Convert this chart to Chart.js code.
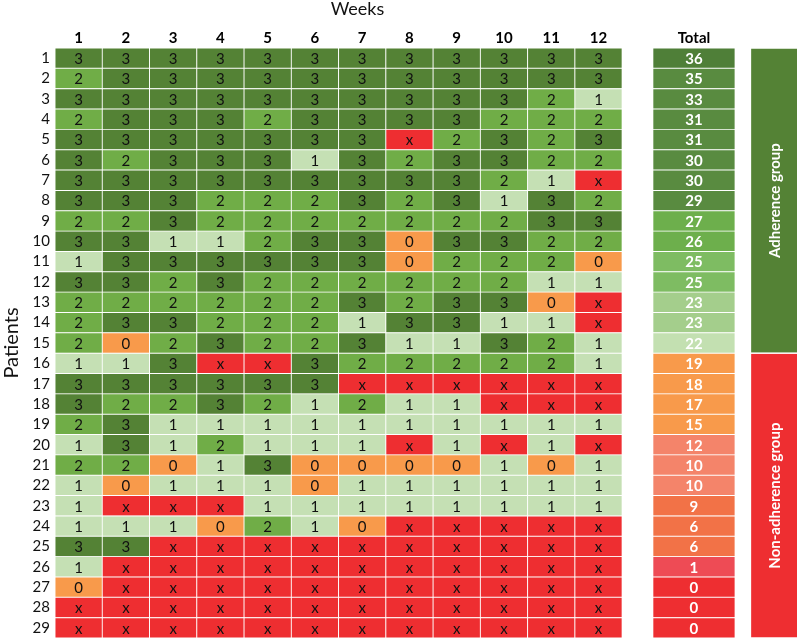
<!DOCTYPE html>
<html>
<head>
<meta charset="utf-8">
<script src="https://cdn.jsdelivr.net/npm/chart.js@4.4.1/dist/chart.umd.min.js"></script>
<style>
	html, body { margin: 0; padding: 0; background: #fff; }
	#wrap { width: 797px; height: 640px; }
</style>
</head>
<body>
<div id="wrap"><canvas id="adherenceChart"></canvas></div>
<script>
// ===== DATA =====
const X = 'x';
const weekLabels = ['1', '2', '3', '4', '5', '6', '7', '8', '9', '10', '11', '12'];
const patientLabels = ['1', '2', '3', '4', '5', '6', '7', '8', '9', '10', '11', '12', '13', '14', '15',
	'16', '17', '18', '19', '20', '21', '22', '23', '24', '25', '26', '27', '28', '29'];
const totalLabel = 'Total';

// weekly score per patient (rows) and week (columns); X = missed
const scores = [
	[3, 3, 3, 3, 3, 3, 3, 3, 3, 3, 3, 3],
	[2, 3, 3, 3, 3, 3, 3, 3, 3, 3, 3, 3],
	[3, 3, 3, 3, 3, 3, 3, 3, 3, 3, 2, 1],
	[2, 3, 3, 3, 2, 3, 3, 3, 3, 2, 2, 2],
	[3, 3, 3, 3, 3, 3, 3, X, 2, 3, 2, 3],
	[3, 2, 3, 3, 3, 1, 3, 2, 3, 3, 2, 2],
	[3, 3, 3, 3, 3, 3, 3, 3, 3, 2, 1, X],
	[3, 3, 3, 2, 2, 2, 3, 2, 3, 1, 3, 2],
	[2, 2, 3, 2, 2, 2, 2, 2, 2, 2, 3, 3],
	[3, 3, 1, 1, 2, 3, 3, 0, 3, 3, 2, 2],
	[1, 3, 3, 3, 3, 3, 3, 0, 2, 2, 2, 0],
	[3, 3, 2, 3, 2, 2, 2, 2, 2, 2, 1, 1],
	[2, 2, 2, 2, 2, 2, 3, 2, 3, 3, 0, X],
	[2, 3, 3, 2, 2, 2, 1, 3, 3, 1, 1, X],
	[2, 0, 2, 3, 2, 2, 3, 1, 1, 3, 2, 1],
	[1, 1, 3, X, X, 3, 2, 2, 2, 2, 2, 1],
	[3, 3, 3, 3, 3, 3, X, X, X, X, X, X],
	[3, 2, 2, 3, 2, 1, 2, 1, 1, X, X, X],
	[2, 3, 1, 1, 1, 1, 1, 1, 1, 1, 1, 1],
	[1, 3, 1, 2, 1, 1, 1, X, 1, X, 1, X],
	[2, 2, 0, 1, 3, 0, 0, 0, 0, 1, 0, 1],
	[1, 0, 1, 1, 1, 0, 1, 1, 1, 1, 1, 1],
	[1, X, X, X, 1, 1, 1, 1, 1, 1, 1, 1],
	[1, 1, 1, 0, 2, 1, 0, X, X, X, X, X],
	[3, 3, X, X, X, X, X, X, X, X, X, X],
	[1, X, X, X, X, X, X, X, X, X, X, X],
	[0, X, X, X, X, X, X, X, X, X, X, X],
	[X, X, X, X, X, X, X, X, X, X, X, X],
	[X, X, X, X, X, X, X, X, X, X, X, X]
];
const totals = [36, 35, 33, 31, 31, 30, 30, 29, 27, 26, 25, 25, 23, 23, 22,
	19, 18, 17, 15, 12, 10, 10, 9, 6, 6, 1, 0, 0, 0];

const groupNames = ['Adherence group', 'Non-adherence group'];
const groupFirstRow = [1, 16];
const groupLastRow = [15, 29];

// ===== STYLE =====
const FONT = 'Lato, "Open Sans", sans-serif';
const scoreColors = { 3: '#548235', 2: '#70AD47', 1: '#C5E0B4', 0: '#F89A4B', x: '#EE2E31' };
const groupColors = ['#548235', '#EE2E31'];
const TOTAL_SPAN = [13.15, 14.89];
const GROUP_SPAN = [15.23, 16.2];
const WEEKS_TITLE_AT = 6.9;

function totalColor(v) {
	if (v >= 36) return '#4F7F38';
	if (v >= 29) return '#598B40';
	if (v >= 26) return '#6DAF4C';
	if (v >= 25) return '#7EBC62';
	if (v >= 23) return '#A4CE8C';
	if (v >= 20) return '#C3E0B1';
	if (v >= 13) return '#F89A4B';
	if (v >= 10) return '#F4846A';
	if (v >= 2) return '#F27247';
	if (v >= 1) return '#EE4B55';
	return '#EE2E31';
}

// ===== BUILD DATASETS =====
const cellData = [];
const cellTexts = [];
const cellColors = [];
scores.forEach((row, r) => {
	row.forEach((v, c) => {
		cellData.push({ x: [c + 0.5, c + 1.5], y: r + 1 });
		cellTexts.push(String(v));
		cellColors.push(scoreColors[v]);
	});
});

const totalData = totals.map((t, r) => ({ x: TOTAL_SPAN, y: r + 1 }));

const headerTicks = weekLabels.map((w, i) => i + 1).concat([(TOTAL_SPAN[0] + TOTAL_SPAN[1]) / 2]);
const headerLabels = weekLabels.concat([totalLabel]);

// ===== PLUGINS =====
const cellText = {
	id: 'cellText',
	afterDatasetsDraw(chart) {
		const ctx = chart.ctx;
		ctx.save();
		ctx.textAlign = 'center';
		ctx.textBaseline = 'middle';
		chart.data.datasets.forEach((ds, di) => {
			const meta = chart.getDatasetMeta(di);
			ctx.font = ds.textFont;
			ctx.fillStyle = ds.textColor;
			meta.data.forEach((bar, i) => {
				const p = bar.getCenterPoint();
				ctx.fillText(ds.texts[i], p.x, p.y + 1);
			});
		});
		ctx.restore();
	}
};

const groupBoxes = {
	id: 'groupBoxes',
	afterDatasetsDraw(chart) {
		const ctx = chart.ctx;
		const xs = chart.scales.x;
		const ys = chart.scales.y;
		const left = xs.getPixelForValue(GROUP_SPAN[0]);
		const right = xs.getPixelForValue(GROUP_SPAN[1]);
		groupNames.forEach((name, g) => {
			const top = ys.getPixelForValue(groupFirstRow[g] - 0.5) + 0.75;
			const bottom = ys.getPixelForValue(groupLastRow[g] + 0.5) - 0.75;
			ctx.save();
			ctx.fillStyle = groupColors[g];
			ctx.fillRect(left, top, right - left, bottom - top);
			ctx.translate((left + right) / 2, (top + bottom) / 2);
			ctx.rotate(-Math.PI / 2);
			ctx.fillStyle = '#fff';
			ctx.font = 'bold 15px ' + FONT;
			ctx.textAlign = 'center';
			ctx.textBaseline = 'middle';
			ctx.fillText(name, 0, 1);
			ctx.restore();
		});
	}
};

// "Weeks" sits over the week columns, not over the whole axis
const weeksTitle = {
	id: 'weeksTitle',
	afterDraw(chart) {
		const ctx = chart.ctx;
		ctx.save();
		ctx.fillStyle = '#111';
		ctx.font = '18px ' + FONT;
		ctx.textAlign = 'center';
		ctx.textBaseline = 'middle';
		ctx.fillText('Weeks', chart.scales.x.getPixelForValue(WEEKS_TITLE_AT), 9);
		ctx.restore();
	}
};

// ===== CHART =====
const ctx = document.getElementById('adherenceChart').getContext('2d');

new Chart(ctx, {
	type: 'bar',
	data: {
		datasets: [{
			data: cellData,
			texts: cellTexts,
			textFont: '15px ' + FONT,
			textColor: '#111',
			backgroundColor: cellColors,
			borderColor: 'rgba(255,255,255,0.95)',
			borderWidth: 0.8,
			borderSkipped: false
		}, {
			data: totalData,
			texts: totals.map(String),
			textFont: 'bold 15px ' + FONT,
			textColor: '#fff',
			backgroundColor: totals.map(totalColor),
			borderColor: 'rgba(255,255,255,0.95)',
			borderWidth: 0.8,
			borderSkipped: false
		}]
	},
	options: {
		indexAxis: 'y',
		responsive: true,
		maintainAspectRatio: false,
		animation: false,
		grouped: false,
		barPercentage: 1,
		categoryPercentage: 1,
		layout: { autoPadding: false, padding: { top: 0, right: 0, bottom: 2, left: 0 } },
		plugins: {
			legend: { display: false },
			tooltip: { enabled: false }
		},
		scales: {
			x: {
				type: 'linear',
				position: 'top',
				offset: false,
				min: 0.5,
				max: GROUP_SPAN[1],
				grid: { display: false, drawTicks: false },
				border: { display: false },
				afterBuildTicks: s => { s.ticks = headerTicks.map(v => ({ value: v })); },
				afterFit: s => {
					s.height = 48;
					s.paddingLeft = 0;
					s.paddingRight = 0;
				},
				ticks: {
					autoSkip: false,
					maxRotation: 0,
					padding: 1,
					color: '#000',
					font: { family: FONT, size: 15, weight: 'bold' },
					callback: (v, i) => headerLabels[i]
				},
				title: { display: false }
			},
			y: {
				type: 'linear',
				reverse: true,
				offset: false,
				min: 0.5,
				max: patientLabels.length + 0.5,
				grid: { display: false, drawTicks: false },
				border: { display: false },
				afterBuildTicks: s => { s.ticks = patientLabels.map((p, i) => ({ value: i + 1 })); },
				afterFit: s => {
					s.width = 55;
					s.paddingTop = 0;
					s.paddingBottom = 0;
				},
				ticks: {
					autoSkip: false,
					padding: 5,
					color: '#111',
					font: { family: FONT, size: 15 },
					callback: (v, i) => patientLabels[i]
				},
				title: {
					display: true,
					text: 'Patients',
					color: '#111',
					padding: { top: 0, bottom: 0 },
					font: { family: FONT, size: 20 }
				}
			}
		}
	},
	plugins: [cellText, groupBoxes, weeksTitle]
});
</script>
</body>
</html>
